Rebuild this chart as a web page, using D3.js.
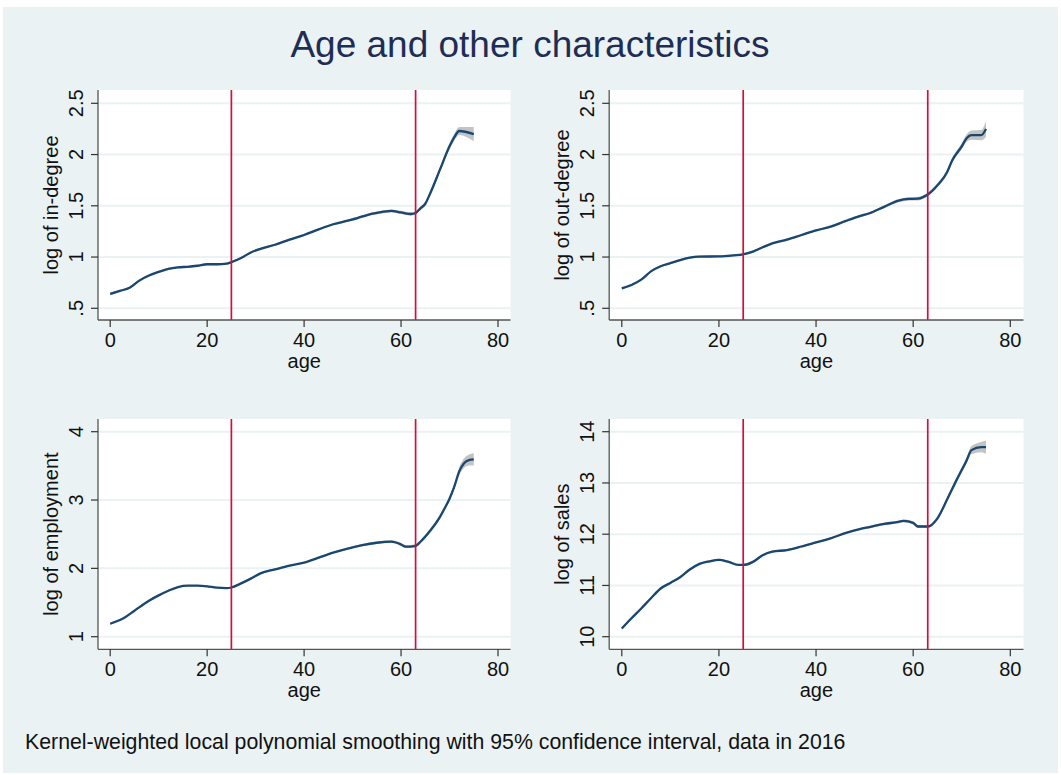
<!DOCTYPE html>
<html>
<head>
<meta charset="utf-8">
<script src="https://cdn.jsdelivr.net/npm/d3@7"></script>
<style>
  body { margin: 0; background: #fff; }
  svg { display: block; font-family: "Liberation Sans", Arial, Helvetica, sans-serif; }
</style>
</head>
<body>
<div id="chart"></div>
<script>
// values (age grid, estimate, half-width of the 95% CI)
const inAges = [0, 2, 4, 6, 8, 10, 12, 14, 16, 18, 20, 22, 24, 25, 27, 29, 31, 34, 37, 40, 43, 46, 49, 51, 53, 55, 58, 60, 62, 63, 64, 65, 66, 68, 70, 71, 72, 75];
const inDegree = [0.64, 0.67, 0.70, 0.77, 0.82, 0.855, 0.885, 0.90, 0.905, 0.915, 0.93, 0.93, 0.935, 0.95, 0.99, 1.045, 1.08, 1.12, 1.17, 1.215, 1.27, 1.32, 1.355, 1.38, 1.41, 1.43, 1.45, 1.435, 1.42, 1.43, 1.475, 1.52, 1.62, 1.85, 2.08, 2.17, 2.23, 2.20];
const inCi = [0.015, 0.01, 0.01, 0.01, 0.01, 0.01, 0.01, 0.01, 0.01, 0.01, 0.01, 0.01, 0.01, 0.01, 0.01, 0.01, 0.01, 0.01, 0.01, 0.01, 0.01, 0.01, 0.012, 0.012, 0.012, 0.014, 0.015, 0.016, 0.016, 0.016, 0.017, 0.02, 0.022, 0.025, 0.03, 0.035, 0.04, 0.07];

const outAges = [0, 2, 4, 6, 8, 10, 12, 14, 16, 20, 23, 25, 27, 29, 31, 34, 37, 40, 43, 46, 49, 51, 54, 57, 59, 61, 63, 65, 67, 68, 70, 71, 72, 74, 75];
const outDegree = [0.695, 0.728, 0.78, 0.86, 0.91, 0.94, 0.97, 0.994, 1.004, 1.007, 1.017, 1.027, 1.053, 1.095, 1.134, 1.17, 1.215, 1.26, 1.297, 1.35, 1.40, 1.427, 1.49, 1.55, 1.567, 1.57, 1.61, 1.70, 1.83, 1.94, 2.08, 2.16, 2.19, 2.19, 2.25];
const outCi = [0.012, 0.01, 0.01, 0.01, 0.01, 0.01, 0.01, 0.01, 0.01, 0.01, 0.01, 0.01, 0.01, 0.01, 0.01, 0.01, 0.01, 0.01, 0.01, 0.012, 0.012, 0.012, 0.014, 0.016, 0.017, 0.018, 0.018, 0.02, 0.022, 0.025, 0.03, 0.035, 0.045, 0.05, 0.078];

const empAges = [0, 3, 5, 8, 10, 12, 14, 16, 18, 20, 22, 24, 25, 27, 29, 31, 34, 37, 40, 43, 46, 49, 52, 55, 58, 60, 61, 63, 64, 66, 68, 69, 70, 71, 72, 73, 74, 75];
const employment = [1.19, 1.28, 1.38, 1.527, 1.605, 1.673, 1.727, 1.746, 1.746, 1.737, 1.717, 1.712, 1.72, 1.78, 1.85, 1.927, 1.985, 2.04, 2.083, 2.156, 2.23, 2.29, 2.34, 2.375, 2.39, 2.35, 2.317, 2.33, 2.39, 2.55, 2.75, 2.88, 3.02, 3.2, 3.42, 3.54, 3.585, 3.595];
const empCi = [0.015, 0.012, 0.012, 0.012, 0.012, 0.012, 0.012, 0.012, 0.012, 0.012, 0.012, 0.012, 0.012, 0.012, 0.012, 0.012, 0.012, 0.012, 0.012, 0.014, 0.014, 0.015, 0.016, 0.018, 0.02, 0.022, 0.022, 0.022, 0.024, 0.026, 0.03, 0.032, 0.035, 0.04, 0.06, 0.07, 0.08, 0.088];

const salesAges = [0, 2, 4, 6, 8, 10, 12, 14, 16, 18, 20, 22, 24, 25, 27, 29, 31, 34, 37, 40, 43, 46, 49, 51, 54, 57, 58, 60, 61, 63, 65, 67, 69, 71, 72, 74, 75];
const sales = [10.16, 10.36, 10.55, 10.75, 10.94, 11.05, 11.16, 11.31, 11.42, 11.47, 11.50, 11.46, 11.40, 11.40, 11.46, 11.59, 11.66, 11.69, 11.76, 11.84, 11.92, 12.02, 12.10, 12.14, 12.20, 12.24, 12.26, 12.22, 12.15, 12.15, 12.31, 12.68, 13.07, 13.44, 13.64, 13.70, 13.70];
const salesCi = [0.03, 0.02, 0.02, 0.02, 0.02, 0.02, 0.02, 0.02, 0.02, 0.02, 0.02, 0.02, 0.02, 0.02, 0.02, 0.02, 0.02, 0.02, 0.02, 0.02, 0.02, 0.02, 0.02, 0.022, 0.024, 0.026, 0.028, 0.03, 0.03, 0.03, 0.035, 0.04, 0.05, 0.06, 0.08, 0.1, 0.13];

const cutoffs = [25, 63];
const xTicks = [0, 20, 40, 60, 80];
const yTicksDegree = [0.5, 1, 1.5, 2, 2.5];
const yTicksEmp = [1, 2, 3, 4];
const yTicksSales = [10, 11, 12, 13, 14];

const panels = [
    { label: 'log of in-degree', ages: inAges, est: inDegree, ci: inCi, ticks: yTicksDegree, col: 0, row: 0 },
    { label: 'log of out-degree', ages: outAges, est: outDegree, ci: outCi, ticks: yTicksDegree, col: 1, row: 0 },
    { label: 'log of employment', ages: empAges, est: employment, ci: empCi, ticks: yTicksEmp, col: 0, row: 1 },
    { label: 'log of sales', ages: salesAges, est: sales, ci: salesCi, ticks: yTicksSales, col: 1, row: 1 },
];

const width = 1061;
const height = 775;

// plot regions (white boxes) and where the outer ticks sit
const cols = [
    { x0: 98, x1: 510.5, t0: 110.2, t1: 498 },
    { x0: 609.2, x1: 1023.5, t0: 621.8, t1: 1010.3 },
];
const rows = [
    { y0: 90, y1: 320, t0: 308.3, t1: 103.3 },
    { y0: 419, y1: 649.3, t0: 636.7, t1: 431.7 },
];

const navy = '#1a476f';
const bg = '#eaf2f3';
const fmt = v => (v === 0.5 ? '.5' : String(v));

const svg = d3.select('#chart').append('svg')
    .attr('width', width)
    .attr('height', height);

svg.append('rect')
    .attr('x', 3).attr('y', 7)
    .attr('width', 1055).attr('height', 766)
    .attr('fill', bg);

svg.append('text')
    .attr('x', 530).attr('y', 56.5)
    .attr('text-anchor', 'middle')
    .attr('font-size', 37)
    .attr('fill', '#1f2d56')
    .text('Age and other characteristics');

svg.append('text')
    .attr('x', 25).attr('y', 749)
    .attr('font-size', 21.3)
    .attr('fill', '#111')
    .text('Kernel-weighted local polynomial smoothing with 95% confidence interval, data in 2016');

panels.forEach(p => {
    const c = cols[p.col];
    const r = rows[p.row];
    const x = d3.scaleLinear().domain([0, 80]).range([c.t0, c.t1]);
    const y = d3.scaleLinear().domain([p.ticks[0], p.ticks[p.ticks.length - 1]]).range([r.t0, r.t1]);

    const g = svg.append('g');

    g.append('rect')
        .attr('x', c.x0).attr('y', r.y0)
        .attr('width', c.x1 - c.x0).attr('height', r.y1 - r.y0)
        .attr('fill', '#fff');

    g.append('g').selectAll('line')
        .data(p.ticks)
        .enter().append('line')
        .attr('x1', c.x0).attr('x2', c.x1)
        .attr('y1', d => y(d)).attr('y2', d => y(d))
        .attr('stroke', bg)
        .attr('stroke-width', 2);

    const pts = p.ages.map((a, i) => ({ a: a, v: p.est[i], h: p.ci[i] }));

    const band = d3.area()
        .curve(d3.curveMonotoneX)
        .x(d => x(d.a))
        .y0(d => y(d.v - d.h))
        .y1(d => y(d.v + d.h));

    g.append('path')
        .datum(pts)
        .attr('d', band)
        .attr('fill', '#b4b4b4')
        .attr('opacity', 0.8);

    const line = d3.line()
        .curve(d3.curveMonotoneX)
        .x(d => x(d.a))
        .y(d => y(d.v));

    g.append('path')
        .datum(pts)
        .attr('d', line)
        .attr('fill', 'none')
        .attr('stroke', navy)
        .attr('stroke-width', 2.3);

    g.append('g').selectAll('line')
        .data(cutoffs)
        .enter().append('line')
        .attr('x1', d => x(d)).attr('x2', d => x(d))
        .attr('y1', r.y0).attr('y2', r.y1)
        .attr('stroke', '#d0103a')
        .attr('stroke-width', 1.7);

    // y axis
    const ya = g.append('g').attr('transform', `translate(${c.x0},0)`);
    ya.append('line')
        .attr('x1', 0).attr('x2', 0)
        .attr('y1', r.y0).attr('y2', r.y1)
        .attr('stroke', '#555').attr('stroke-width', 1.3);
    ya.selectAll('.tick')
        .data(p.ticks)
        .enter().append('line')
        .attr('x1', -7).attr('x2', 0)
        .attr('y1', d => y(d)).attr('y2', d => y(d))
        .attr('stroke', '#333').attr('stroke-width', 1.2);
    ya.selectAll('text')
        .data(p.ticks)
        .enter().append('text')
        .attr('transform', d => `translate(-15,${y(d)}) rotate(-90)`)
        .attr('text-anchor', 'middle')
        .attr('font-size', 20)
        .attr('fill', '#111')
        .text(fmt);
    ya.append('text')
        .attr('transform', `translate(-40,${(r.y0 + r.y1) / 2}) rotate(-90)`)
        .attr('text-anchor', 'middle')
        .attr('font-size', 20)
        .attr('fill', '#111')
        .text(p.label);

    // x axis
    const xa = g.append('g').attr('transform', `translate(0,${r.y1})`);
    xa.append('line')
        .attr('x1', c.x0).attr('x2', c.x1)
        .attr('y1', 0).attr('y2', 0)
        .attr('stroke', '#555').attr('stroke-width', 1.3);
    xa.selectAll('.tick')
        .data(xTicks)
        .enter().append('line')
        .attr('x1', d => x(d)).attr('x2', d => x(d))
        .attr('y1', 0).attr('y2', 7)
        .attr('stroke', '#333').attr('stroke-width', 1.2);
    xa.selectAll('text')
        .data(xTicks)
        .enter().append('text')
        .attr('x', d => x(d)).attr('y', 27)
        .attr('text-anchor', 'middle')
        .attr('font-size', 20)
        .attr('fill', '#111')
        .text(d => d);
    xa.append('text')
        .attr('x', (c.x0 + c.x1) / 2).attr('y', 48)
        .attr('text-anchor', 'middle')
        .attr('font-size', 20)
        .attr('fill', '#111')
        .text('age');
});
</script>
</body>
</html>
